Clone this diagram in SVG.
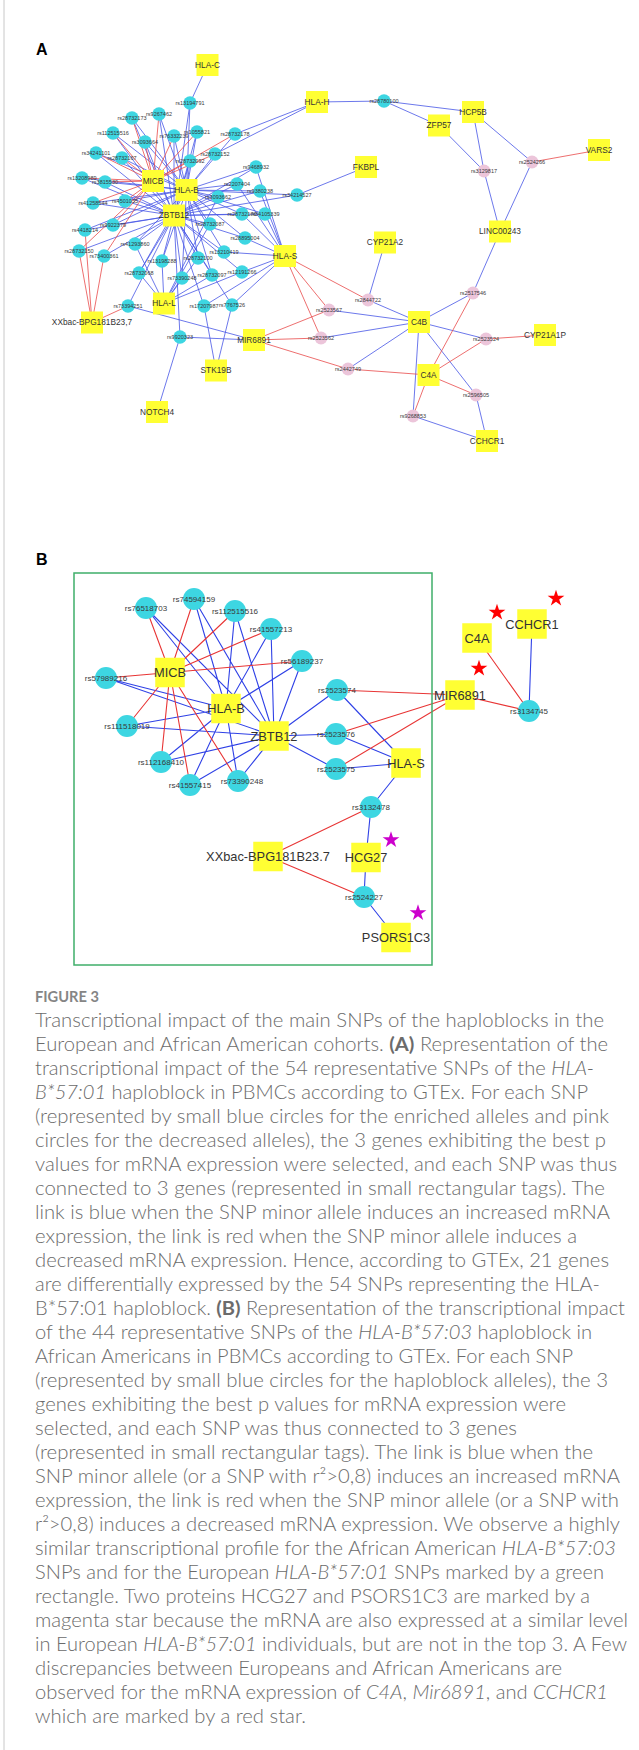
<svg xmlns="http://www.w3.org/2000/svg" width="639" height="1750" viewBox="0 0 639 1750">
<defs>
<style>
.ab{stroke:#4656e6;stroke-width:0.8;fill:none}
.ar{stroke:#e84a4a;stroke-width:0.8;fill:none}
.bb{stroke:#2f41e6;stroke-width:1.1;fill:none}
.br{stroke:#e83535;stroke-width:1.1;fill:none}
.cy{fill:#3dd6e2}
.pk{fill:#ecc5da}
.ge{fill:#ffff33}
.sa{font-family:"Liberation Sans",Arial,sans-serif;font-size:5.5px;fill:#3a3a3a;text-anchor:middle}
.ga{font-family:"Liberation Sans",Arial,sans-serif;font-size:8.3px;fill:#333;text-anchor:middle}
.sb{font-family:"Liberation Sans",Arial,sans-serif;font-size:8px;fill:#3a3a3a;text-anchor:middle}
.gb{font-family:"Liberation Sans",Arial,sans-serif;font-size:12.8px;fill:#333;text-anchor:middle}
.pl{font-family:"Liberation Sans",Arial,sans-serif;font-size:16px;font-weight:bold;fill:#000}
.cap{font-family:Lato,"Liberation Sans",sans-serif;font-size:19px;font-weight:300;fill:#6b6b6b}
.fig{font-family:Lato,"Liberation Sans",sans-serif;font-size:15px;font-weight:bold;fill:#858585}
</style>
<polygon id="star" points="0,-8.8 1.98,-2.72 8.37,-2.72 3.2,1.04 5.17,7.12 0,3.36 -5.17,7.12 -3.2,1.04 -8.37,-2.72 -1.98,-2.72"/>
</defs>
<rect width="639" height="1750" fill="#fff"/>
<line x1="4" y1="0" x2="4" y2="1750" stroke="#c8c8c8" stroke-width="1"/>
<text class="pl" x="36" y="55">A</text>
<text class="pl" x="36" y="565">B</text>

<g id="connectors">
<path class="ab" d="M190 103L207.5 65M190 103L186.5 190M190 103L174 215.5M132 118L186.5 190M132 118L174 215.5M159 114L186.5 190M159 114L174 215.5M113 133L186.5 190M113 133L174 215.5M145 142L186.5 190M145 142L174 215.5M174 136L186.5 190M174 136L174 215.5M197 132L186.5 190M197 132L174 215.5M235 134L317 102M235 134L186.5 190M96 153L186.5 190M96 153L174 215.5M122 158L186.5 190M122 158L174 215.5M190 161L186.5 190M190 161L174 215.5M215 154L186.5 190M215 154L317 102M82 178L186.5 190M82 178L174 215.5M105 182L186.5 190M105 182L174 215.5M93 203L186.5 190M93 203L174 215.5M125 201L186.5 190M125 201L174 215.5M256 167L186.5 190M256 167L174 215.5M256 167L285 256M237 184L186.5 190M237 184L174 215.5M237 184L285 256M218 197L186.5 190M218 197L174 215.5M218 197L164 303.5M260 191L186.5 190M260 191L174 215.5M260 191L285 256M297 195L366 167M297 195L186.5 190M297 195L174 215.5M242 214L186.5 190M242 214L174 215.5M242 214L285 256M265 214L186.5 190M265 214L174 215.5M265 214L285 256M210 224L186.5 190M210 224L174 215.5M210 224L164 303.5M245 238L186.5 190M245 238L174 215.5M245 238L285 256M113 225L186.5 190M113 225L174 215.5M85 230L186.5 190M85 230L174 215.5M79 251L174 215.5M104 256L174 215.5M135 244L186.5 190M135 244L174 215.5M135 244L164 303.5M224 252L186.5 190M224 252L174 215.5M224 252L285 256M198 258L186.5 190M198 258L174 215.5M198 258L164 303.5M162 261L186.5 190M162 261L174 215.5M162 261L164 303.5M139 273L186.5 190M139 273L174 215.5M139 273L164 303.5M182 278L186.5 190M182 278L174 215.5M182 278L164 303.5M212 275L186.5 190M212 275L174 215.5M212 275L164 303.5M242 272L174 215.5M242 272L285 256M242 272L164 303.5M128 306L174 215.5M128 306L254 340M204 306L174 215.5M204 306L216 370.5M204 306L285 256M232 305L174 215.5M232 305L216 370.5M232 305L285 256M180 337L254 340M180 337L157 412M180 337L174 215.5M384 101L317 102M384 101L473 112M384 101L439 125.5M484 171L439 125.5M484 171L473 112M484 171L500 231.5M532 162L473 112M532 162L500 231.5M473 293L500 231.5M473 293L419 322M368 300L385 242.5M368 300L419 322M329 310L419 322M321 338L419 322M486 339L419 322M348 369L419 322M476 395L419 322M476 395L487 441M413 416L419 322M413 416L487 441"/>
<path class="ar" d="M132 118L153 181M159 114L153 181M113 133L153 181M145 142L153 181M174 136L153 181M197 132L153 181M235 134L153 181M96 153L153 181M122 158L153 181M190 161L153 181M215 154L153 181M82 178L153 181M105 182L153 181M93 203L153 181M125 201L153 181M113 225L153 181M85 230L92 322.5M79 251L92 322.5M79 251L153 181M104 256L92 322.5M104 256L153 181M128 306L92 322.5M532 162L599 150M473 293L428.5 375M368 300L285 256M329 310L285 256M329 310L254 340M321 338L285 256M321 338L254 340M486 339L545 335M486 339L428.5 375M348 369L428.5 375M348 369L254 340M476 395L428.5 375M413 416L428.5 375"/>
<path class="bb" d="M146 608L226 708.5M146 608L274 736M194 599L226 708.5M194 599L274 736M235 611L226 708.5M235 611L274 736M271 629L226 708.5M271 629L274 736M302 661L226 708.5M302 661L274 736M106 678L226 708.5M106 678L274 736M127 726L226 708.5M127 726L274 736M161 762L226 708.5M161 762L274 736M190 785L226 708.5M190 785L274 736M238 781L226 708.5M238 781L274 736M337 690L274 736M337 690L406 763M336 734L274 736M336 734L406 763M336 769L274 736M336 769L406 763M406 763L371 807M371 807L366 857.5M364 897L366 857.5M364 897L396 937.5M529 711L532 624"/>
<path class="br" d="M170 672.5L146 608M170 672.5L194 599M170 672.5L235 611M170 672.5L271 629M170 672.5L302 661M170 672.5L106 678M170 672.5L127 726M170 672.5L161 762M170 672.5L190 785M170 672.5L238 781M337 690L460 695M336 734L460 695M336 769L460 695M371 807L268 856.5M364 897L268 856.5M529 711L460 695M529 711L477 638"/>
</g>

<g id="panelA-snps">
<g id="a1"><circle class="cy" cx="190" cy="103" r="6.7"/><text class="sa" x="190" y="104.9">rs13194791</text></g>
<g id="a2"><circle class="cy" cx="132" cy="118" r="6.7"/><text class="sa" x="132" y="119.9">rs28732173</text></g>
<g id="a3"><circle class="cy" cx="159" cy="114" r="6.7"/><text class="sa" x="159" y="115.9">rs9267462</text></g>
<g id="a4"><circle class="cy" cx="113" cy="133" r="6.7"/><text class="sa" x="113" y="134.9">rs112515516</text></g>
<g id="a5"><circle class="cy" cx="145" cy="142" r="6.7"/><text class="sa" x="145" y="143.9">rs3093664</text></g>
<g id="a6"><circle class="cy" cx="174" cy="136" r="6.7"/><text class="sa" x="174" y="137.9">rs76332239</text></g>
<g id="a7"><circle class="cy" cx="197" cy="132" r="6.7"/><text class="sa" x="197" y="133.9">rs1055821</text></g>
<g id="a8"><circle class="cy" cx="235" cy="134" r="6.7"/><text class="sa" x="235" y="135.9">rs28732178</text></g>
<g id="a9"><circle class="cy" cx="96" cy="153" r="6.7"/><text class="sa" x="96" y="154.9">rs34241101</text></g>
<g id="a10"><circle class="cy" cx="122" cy="158" r="6.7"/><text class="sa" x="122" y="159.9">rs28732167</text></g>
<g id="a11"><circle class="cy" cx="190" cy="161" r="6.7"/><text class="sa" x="190" y="162.9">rs28732092</text></g>
<g id="a12"><circle class="cy" cx="215" cy="154" r="6.7"/><text class="sa" x="215" y="155.9">rs28732152</text></g>
<g id="a13"><circle class="cy" cx="82" cy="178" r="6.7"/><text class="sa" x="82" y="179.9">rs13208989</text></g>
<g id="a14"><circle class="cy" cx="105" cy="182" r="6.7"/><text class="sa" x="105" y="183.9">rs3815530</text></g>
<g id="a15"><circle class="cy" cx="93" cy="203" r="6.7"/><text class="sa" x="93" y="204.9">rs41258544</text></g>
<g id="a16"><circle class="cy" cx="125" cy="201" r="6.7"/><text class="sa" x="125" y="202.9">rs4501035</text></g>
<g id="a17"><circle class="cy" cx="256" cy="167" r="6.7"/><text class="sa" x="256" y="168.9">rs9468932</text></g>
<g id="a18"><circle class="cy" cx="237" cy="184" r="6.7"/><text class="sa" x="237" y="185.9">rs2207404</text></g>
<g id="a19"><circle class="cy" cx="218" cy="197" r="6.7"/><text class="sa" x="218" y="198.9">rs3093662</text></g>
<g id="a20"><circle class="cy" cx="260" cy="191" r="6.7"/><text class="sa" x="260" y="192.9">rs9380238</text></g>
<g id="a21"><circle class="cy" cx="297" cy="195" r="6.7"/><text class="sa" x="297" y="196.9">rs34214527</text></g>
<g id="a22"><circle class="cy" cx="242" cy="214" r="6.7"/><text class="sa" x="242" y="215.9">rs28732176</text></g>
<g id="a23"><circle class="cy" cx="265" cy="214" r="6.7"/><text class="sa" x="265" y="215.9">rs34105339</text></g>
<g id="a24"><circle class="cy" cx="210" cy="224" r="6.7"/><text class="sa" x="210" y="225.9">rs28732087</text></g>
<g id="a25"><circle class="cy" cx="245" cy="238" r="6.7"/><text class="sa" x="245" y="239.9">rs28895004</text></g>
<g id="a26"><circle class="cy" cx="113" cy="225" r="6.7"/><text class="sa" x="113" y="226.9">rs9922379</text></g>
<g id="a27"><circle class="cy" cx="85" cy="230" r="6.7"/><text class="sa" x="85" y="231.9">rs4418214</text></g>
<g id="a28"><circle class="cy" cx="79" cy="251" r="6.7"/><text class="sa" x="79" y="252.9">rs28732150</text></g>
<g id="a29"><circle class="cy" cx="104" cy="256" r="6.7"/><text class="sa" x="104" y="257.9">rs73400361</text></g>
<g id="a30"><circle class="cy" cx="135" cy="244" r="6.7"/><text class="sa" x="135" y="245.9">rs41293860</text></g>
<g id="a31"><circle class="cy" cx="224" cy="252" r="6.7"/><text class="sa" x="224" y="253.9">rs13210419</text></g>
<g id="a32"><circle class="cy" cx="198" cy="258" r="6.7"/><text class="sa" x="198" y="259.9">rs28732100</text></g>
<g id="a33"><circle class="cy" cx="162" cy="261" r="6.7"/><text class="sa" x="162" y="262.9">rs13198288</text></g>
<g id="a34"><circle class="cy" cx="139" cy="273" r="6.7"/><text class="sa" x="139" y="274.9">rs28732068</text></g>
<g id="a35"><circle class="cy" cx="182" cy="278" r="6.7"/><text class="sa" x="182" y="279.9">rs73390248</text></g>
<g id="a36"><circle class="cy" cx="212" cy="275" r="6.7"/><text class="sa" x="212" y="276.9">rs28732097</text></g>
<g id="a37"><circle class="cy" cx="242" cy="272" r="6.7"/><text class="sa" x="242" y="273.9">rs12191266</text></g>
<g id="a38"><circle class="cy" cx="128" cy="306" r="6.7"/><text class="sa" x="128" y="307.9">rs73394251</text></g>
<g id="a39"><circle class="cy" cx="204" cy="306" r="6.7"/><text class="sa" x="204" y="307.9">rs17207987</text></g>
<g id="a40"><circle class="cy" cx="232" cy="305" r="6.7"/><text class="sa" x="232" y="306.9">rs7767526</text></g>
<g id="a41"><circle class="cy" cx="180" cy="337" r="6.7"/><text class="sa" x="180" y="338.9">rs9920323</text></g>
<g id="a42"><circle class="cy" cx="384" cy="101" r="6.7"/><text class="sa" x="384" y="102.9">rs28780100</text></g>
<g id="p1"><circle class="pk" cx="484" cy="171" r="6.5"/><text class="sa" x="484" y="172.9">rs3129817</text></g>
<g id="p2"><circle class="pk" cx="532" cy="162" r="6.5"/><text class="sa" x="532" y="163.9">rs2524266</text></g>
<g id="p3"><circle class="pk" cx="473" cy="293" r="6.5"/><text class="sa" x="473" y="294.9">rs2517546</text></g>
<g id="p4"><circle class="pk" cx="368" cy="300" r="6.5"/><text class="sa" x="368" y="301.9">rs2844722</text></g>
<g id="p5"><circle class="pk" cx="329" cy="310" r="6.5"/><text class="sa" x="329" y="311.9">rs2523567</text></g>
<g id="p6"><circle class="pk" cx="321" cy="338" r="6.5"/><text class="sa" x="321" y="339.9">rs2523562</text></g>
<g id="p7"><circle class="pk" cx="486" cy="339" r="6.5"/><text class="sa" x="486" y="340.9">rs2523524</text></g>
<g id="p8"><circle class="pk" cx="348" cy="369" r="6.5"/><text class="sa" x="348" y="370.9">rs2442749</text></g>
<g id="p9"><circle class="pk" cx="476" cy="395" r="6.5"/><text class="sa" x="476" y="396.9">rs2596505</text></g>
<g id="p10"><circle class="pk" cx="413" cy="416" r="6.5"/><text class="sa" x="413" y="417.9">rs9268853</text></g>
</g>

<g id="panelA-genes">
<g id="A-HLA-C"><rect class="ge" x="196.5" y="54" width="22" height="22"/><text class="ga" x="207.5" y="67.9">HLA-C</text></g>
<g id="A-HLA-H"><rect class="ge" x="306" y="91" width="22" height="22"/><text class="ga" x="317" y="104.9">HLA-H</text></g>
<g id="A-HCP5B"><rect class="ge" x="462" y="101" width="22" height="22"/><text class="ga" x="473" y="114.9">HCP5B</text></g>
<g id="A-ZFP57"><rect class="ge" x="428" y="114.5" width="22" height="22"/><text class="ga" x="439" y="128.4">ZFP57</text></g>
<g id="A-VARS2"><rect class="ge" x="588" y="139" width="22" height="22"/><text class="ga" x="599" y="152.9">VARS2</text></g>
<g id="A-FKBPL"><rect class="ge" x="355" y="156" width="22" height="22"/><text class="ga" x="366" y="169.9">FKBPL</text></g>
<g id="A-MICB"><rect class="ge" x="142" y="170" width="22" height="22"/><text class="ga" x="153" y="183.9">MICB</text></g>
<g id="A-HLA-B"><rect class="ge" x="175.5" y="179" width="22" height="22"/><text class="ga" x="186.5" y="192.9">HLA-B</text></g>
<g id="A-ZBTB12"><rect class="ge" x="163" y="204.5" width="22" height="22"/><text class="ga" x="174" y="218.4">ZBTB12</text></g>
<g id="A-LINC00243"><rect class="ge" x="489" y="220.5" width="22" height="22"/><text class="ga" x="500" y="234.4">LINC00243</text></g>
<g id="A-CYP21A2"><rect class="ge" x="374" y="231.5" width="22" height="22"/><text class="ga" x="385" y="245.4">CYP21A2</text></g>
<g id="A-HLA-S"><rect class="ge" x="274" y="245" width="22" height="22"/><text class="ga" x="285" y="258.9">HLA-S</text></g>
<g id="A-HLA-L"><rect class="ge" x="153" y="292.5" width="22" height="22"/><text class="ga" x="164" y="306.4">HLA-L</text></g>
<g id="A-XXbac"><rect class="ge" x="81" y="311.5" width="22" height="22"/><text class="ga" x="92" y="325.4">XXbac-BPG181B23,7</text></g>
<g id="A-C4B"><rect class="ge" x="408" y="311" width="22" height="22"/><text class="ga" x="419" y="324.9">C4B</text></g>
<g id="A-CYP21A1P"><rect class="ge" x="534" y="324" width="22" height="22"/><text class="ga" x="545" y="337.9">CYP21A1P</text></g>
<g id="A-MIR6891"><rect class="ge" x="243" y="329" width="22" height="22"/><text class="ga" x="254" y="342.9">MIR6891</text></g>
<g id="A-STK19B"><rect class="ge" x="205" y="359.5" width="22" height="22"/><text class="ga" x="216" y="373.4">STK19B</text></g>
<g id="A-C4A"><rect class="ge" x="417.5" y="364" width="22" height="22"/><text class="ga" x="428.5" y="377.9">C4A</text></g>
<g id="A-NOTCH4"><rect class="ge" x="146" y="401" width="22" height="22"/><text class="ga" x="157" y="414.9">NOTCH4</text></g>
<g id="A-CCHCR1"><rect class="ge" x="476" y="430" width="22" height="22"/><text class="ga" x="487" y="443.9">CCHCR1</text></g>
</g>

<rect id="green-rectangle" x="74" y="573" width="358" height="392" fill="none" stroke="#3fae6a" stroke-width="1.5"/>

<g id="panelB-snps">
<g id="b1"><circle class="cy" cx="146" cy="608" r="11"/><text class="sb" x="146" y="610.8">rs76518703</text></g>
<g id="b2"><circle class="cy" cx="194" cy="599" r="11"/><text class="sb" x="194" y="601.8">rs74594159</text></g>
<g id="b3"><circle class="cy" cx="235" cy="611" r="11"/><text class="sb" x="235" y="613.8">rs112515516</text></g>
<g id="b4"><circle class="cy" cx="271" cy="629" r="11"/><text class="sb" x="271" y="631.8">rs41557213</text></g>
<g id="b5"><circle class="cy" cx="302" cy="661" r="11"/><text class="sb" x="302" y="663.8">rs56189237</text></g>
<g id="b6"><circle class="cy" cx="106" cy="678" r="11"/><text class="sb" x="106" y="680.8">rs57989216</text></g>
<g id="b7"><circle class="cy" cx="127" cy="726" r="11"/><text class="sb" x="127" y="728.8">rs111518019</text></g>
<g id="b8"><circle class="cy" cx="161" cy="762" r="11"/><text class="sb" x="161" y="764.8">rs112168410</text></g>
<g id="b9"><circle class="cy" cx="190" cy="785" r="11"/><text class="sb" x="190" y="787.8">rs41557415</text></g>
<g id="b10"><circle class="cy" cx="238" cy="781" r="11"/><text class="sb" x="242" y="783.8">rs73390248</text></g>
<g id="b11"><circle class="cy" cx="337" cy="690" r="11"/><text class="sb" x="337" y="692.8">rs2523574</text></g>
<g id="b12"><circle class="cy" cx="336" cy="734" r="11"/><text class="sb" x="336" y="736.8">rs2523576</text></g>
<g id="b13"><circle class="cy" cx="336" cy="769" r="11"/><text class="sb" x="336" y="771.8">rs2523575</text></g>
<g id="b14"><circle class="cy" cx="371" cy="807" r="11"/><text class="sb" x="371" y="809.8">rs3132478</text></g>
<g id="b15"><circle class="cy" cx="364" cy="897" r="11"/><text class="sb" x="364" y="899.8">rs2524227</text></g>
<g id="b16"><circle class="cy" cx="529" cy="711" r="11"/><text class="sb" x="529" y="713.8">rs3134745</text></g>
</g>

<g id="panelB-genes">
<g id="B-MICB"><rect class="ge" x="155.25" y="657.75" width="29.5" height="29.5"/><text class="gb" x="170" y="677">MICB</text></g>
<g id="B-HLA-B"><rect class="ge" x="211.25" y="693.75" width="29.5" height="29.5"/><text class="gb" x="226" y="713">HLA-B</text></g>
<g id="B-ZBTB12"><rect class="ge" x="259.25" y="721.25" width="29.5" height="29.5"/><text class="gb" x="274" y="740.5">ZBTB12</text></g>
<g id="B-HLA-S"><rect class="ge" x="391.25" y="748.25" width="29.5" height="29.5"/><text class="gb" x="406" y="767.5">HLA-S</text></g>
<g id="B-MIR6891"><rect class="ge" x="445.25" y="680.25" width="29.5" height="29.5"/><text class="gb" x="460" y="699.5">MIR6891</text></g>
<g id="B-C4A"><rect class="ge" x="462.25" y="623.25" width="29.5" height="29.5"/><text class="gb" x="477" y="642.5">C4A</text></g>
<g id="B-CCHCR1"><rect class="ge" x="517.25" y="609.25" width="29.5" height="29.5"/><text class="gb" x="532" y="628.5">CCHCR1</text></g>
<g id="B-XXbac"><rect class="ge" x="253.25" y="841.75" width="29.5" height="29.5"/><text class="gb" x="268" y="861">XXbac-BPG181B23.7</text></g>
<g id="B-HCG27"><rect class="ge" x="351.25" y="842.75" width="29.5" height="29.5"/><text class="gb" x="366" y="862">HCG27</text></g>
<g id="B-PSORS1C3"><rect class="ge" x="381.25" y="922.75" width="29.5" height="29.5"/><text class="gb" x="396" y="942">PSORS1C3</text></g>
</g>

<g id="stars">
<use href="#star" x="497" y="612.5" fill="#ff0000"/>
<use href="#star" x="556" y="598.5" fill="#ff0000"/>
<use href="#star" x="479" y="668.5" fill="#ff0000"/>
<use href="#star" x="391" y="840" fill="#cc00cc"/>
<use href="#star" x="418" y="913" fill="#cc00cc"/>
</g>

<g id="caption">
<text class="fig" x="35" y="1002" textLength="64" lengthAdjust="spacingAndGlyphs">FIGURE 3</text>
<text class="cap" x="35" y="1027" textLength="569" lengthAdjust="spacingAndGlyphs">Transcriptional impact of the main SNPs of the haploblocks in the</text>
<text class="cap" x="35" y="1051" textLength="573" lengthAdjust="spacingAndGlyphs">European and African American cohorts. <tspan font-weight="bold">(A)</tspan> Representation of the</text>
<text class="cap" x="35" y="1075" textLength="559" lengthAdjust="spacingAndGlyphs">transcriptional impact of the 54 representative SNPs of the <tspan font-style="italic">HLA-</tspan></text>
<text class="cap" x="35" y="1099" textLength="553" lengthAdjust="spacingAndGlyphs"><tspan font-style="italic">B*57:01</tspan> haploblock in PBMCs according to GTEx. For each SNP</text>
<text class="cap" x="35" y="1123" textLength="574" lengthAdjust="spacingAndGlyphs">(represented by small blue circles for the enriched alleles and pink</text>
<text class="cap" x="35" y="1147" textLength="571" lengthAdjust="spacingAndGlyphs">circles for the decreased alleles), the 3 genes exhibiting the best p</text>
<text class="cap" x="35" y="1171" textLength="582" lengthAdjust="spacingAndGlyphs">values for mRNA expression were selected, and each SNP was thus</text>
<text class="cap" x="35" y="1195" textLength="570" lengthAdjust="spacingAndGlyphs">connected to 3 genes (represented in small rectangular tags). The</text>
<text class="cap" x="35" y="1219" textLength="575" lengthAdjust="spacingAndGlyphs">link is blue when the SNP minor allele induces an increased mRNA</text>
<text class="cap" x="35" y="1243" textLength="542" lengthAdjust="spacingAndGlyphs">expression, the link is red when the SNP minor allele induces a</text>
<text class="cap" x="35" y="1267" textLength="574" lengthAdjust="spacingAndGlyphs">decreased mRNA expression. Hence, according to GTEx, 21 genes</text>
<text class="cap" x="35" y="1291" textLength="565" lengthAdjust="spacingAndGlyphs">are differentially expressed by the 54 SNPs representing the HLA-</text>
<text class="cap" x="35" y="1315" textLength="590" lengthAdjust="spacingAndGlyphs">B*57:01 haploblock. <tspan font-weight="bold">(B)</tspan> Representation of the transcriptional impact</text>
<text class="cap" x="35" y="1339" textLength="557" lengthAdjust="spacingAndGlyphs">of the 44 representative SNPs of the <tspan font-style="italic">HLA-B*57:03</tspan> haploblock in</text>
<text class="cap" x="35" y="1363" textLength="538" lengthAdjust="spacingAndGlyphs">African Americans in PBMCs according to GTEx. For each SNP</text>
<text class="cap" x="35" y="1387" textLength="573" lengthAdjust="spacingAndGlyphs">(represented by small blue circles for the haploblock alleles), the 3</text>
<text class="cap" x="35" y="1411" textLength="531" lengthAdjust="spacingAndGlyphs">genes exhibiting the best p values for mRNA expression were</text>
<text class="cap" x="35" y="1435" textLength="482" lengthAdjust="spacingAndGlyphs">selected, and each SNP was thus connected to 3 genes</text>
<text class="cap" x="35" y="1459" textLength="558" lengthAdjust="spacingAndGlyphs">(represented in small rectangular tags). The link is blue when the</text>
<text class="cap" x="35" y="1483" textLength="585" lengthAdjust="spacingAndGlyphs">SNP minor allele (or a SNP with r²&gt;0,8) induces an increased mRNA</text>
<text class="cap" x="35" y="1507" textLength="584" lengthAdjust="spacingAndGlyphs">expression, the link is red when the SNP minor allele (or a SNP with</text>
<text class="cap" x="35" y="1531" textLength="585" lengthAdjust="spacingAndGlyphs">r²&gt;0,8) induces a decreased mRNA expression. We observe a highly</text>
<text class="cap" x="35" y="1555" textLength="581" lengthAdjust="spacingAndGlyphs">similar transcriptional profile for the African American <tspan font-style="italic">HLA-B*57:03</tspan></text>
<text class="cap" x="35" y="1579" textLength="569" lengthAdjust="spacingAndGlyphs">SNPs and for the European <tspan font-style="italic">HLA-B*57:01</tspan> SNPs marked by a green</text>
<text class="cap" x="35" y="1603" textLength="555" lengthAdjust="spacingAndGlyphs">rectangle. Two proteins HCG27 and PSORS1C3 are marked by a</text>
<text class="cap" x="35" y="1627" textLength="593" lengthAdjust="spacingAndGlyphs">magenta star because the mRNA are also expressed at a similar level</text>
<text class="cap" x="35" y="1651" textLength="592" lengthAdjust="spacingAndGlyphs">in European <tspan font-style="italic">HLA-B*57:01</tspan> individuals, but are not in the top 3. A Few</text>
<text class="cap" x="35" y="1675" textLength="527" lengthAdjust="spacingAndGlyphs">discrepancies between Europeans and African Americans are</text>
<text class="cap" x="35" y="1699" textLength="573" lengthAdjust="spacingAndGlyphs">observed for the mRNA expression of <tspan font-style="italic">C4A</tspan>, <tspan font-style="italic">Mir6891</tspan>, and <tspan font-style="italic">CCHCR1</tspan></text>
<text class="cap" x="35" y="1723" textLength="271" lengthAdjust="spacingAndGlyphs">which are marked by a red star.</text>
</g>
</svg>
